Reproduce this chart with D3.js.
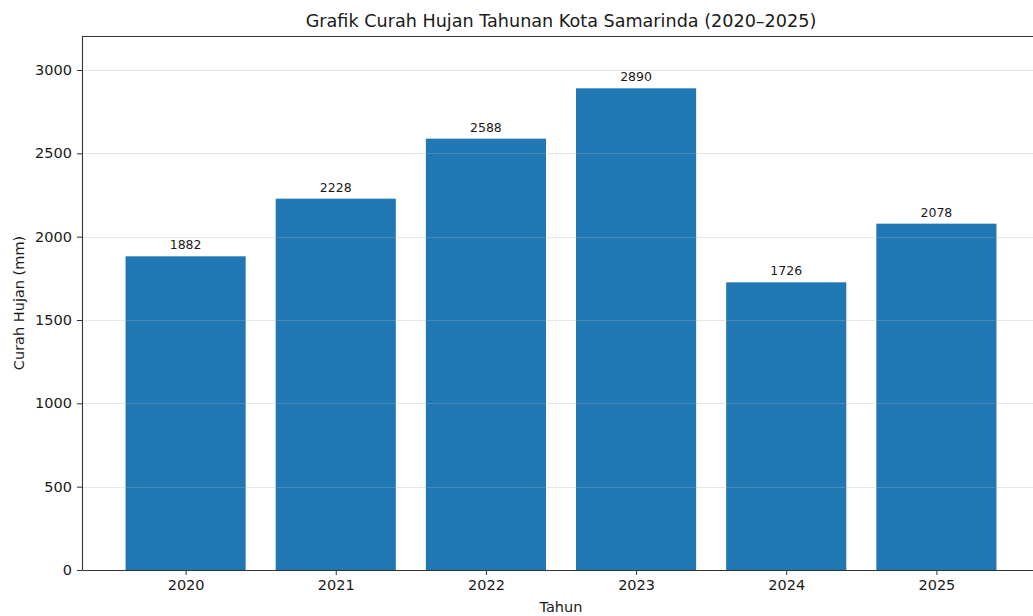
<!DOCTYPE html>
<html>
<head>
<meta charset="utf-8">
<script src="https://cdn.jsdelivr.net/npm/d3@7"></script>
<style>
  body { margin: 0; background: #fff; }
  svg text { font-family: "DejaVu Sans", sans-serif; fill: #1a1a1a; }
</style>
</head>
<body>
<div id="chart"></div>
<script>
// data
var years = ["2020", "2021", "2022", "2023", "2024", "2025"];
var rainfall = [1882, 2228, 2588, 2890, 1726, 2078];
var yTicks = [0, 500, 1000, 1500, 2000, 2500, 3000];

var W = 1033, H = 616;
var margin = { top: 36, right: -7, bottom: 46, left: 82 };
var w = W - margin.left - margin.right;
var h = H - margin.top - margin.bottom;

var svg = d3.select('#chart').append('svg')
  .attr('width', W)
  .attr('height', H);

var g = svg.append('g')
  .attr('transform', 'translate(' + margin.left + ',' + margin.top + ')');

// x as linear over index so the matplotlib margins come out right
var x = d3.scaleLinear()
  .domain([-0.69, years.length - 1 + 0.69])
  .range([0, w]);
var bw = x(0.8) - x(0);

var y = d3.scaleLinear()
  .domain([0, 3204])
  .range([h, 0]);

// bars
g.append('g')
  .selectAll('rect')
  .data(rainfall)
  .enter().append('rect')
  .attr('x', function (d, i) { return x(i) - bw / 2; })
  .attr('y', function (d) { return y(d); })
  .attr('width', bw)
  .attr('height', function (d) { return h - y(d); })
  .attr('fill', '#1f77b4');

// grid (drawn over bars, faint)
g.append('g')
  .selectAll('line')
  .data(yTicks.slice(1))
  .enter().append('line')
  .attr('x1', 0).attr('x2', w)
  .attr('y1', function (d) { return Math.round(y(d)) + 0.5; })
  .attr('y2', function (d) { return Math.round(y(d)) + 0.5; })
  .attr('stroke', '#b0b0b0')
  .attr('stroke-opacity', 0.3)
  .attr('stroke-width', 1);

// value labels
g.append('g')
  .selectAll('text')
  .data(rainfall)
  .enter().append('text')
  .attr('x', function (d, i) { return x(i); })
  .attr('y', function (d) { return y(d) - 7; })
  .attr('text-anchor', 'middle')
  .style('font-size', '12.5px')
  .text(function (d) { return d; });

// axes
var xAxis = g.append('g')
  .attr('transform', 'translate(0,' + h + ')')
  .call(d3.axisBottom(x).tickValues(d3.range(years.length))
    .tickFormat(function (i) { return years[i]; })
    .tickSize(5).tickPadding(5).tickSizeOuter(0));

var yAxis = g.append('g')
  .call(d3.axisLeft(y).tickValues(yTicks).tickFormat(d3.format('d'))
    .tickSize(5).tickPadding(5).tickSizeOuter(0));

[xAxis, yAxis].forEach(function (a) {
  a.selectAll('text').style('font-size', '14.5px').attr('fill', '#1a1a1a');
  a.selectAll('line').attr('stroke', '#333');
  a.select('.domain').attr('stroke', '#333').attr('stroke-width', 1.1);
});

// top spine
g.append('line')
  .attr('x1', 0).attr('x2', w)
  .attr('y1', 0.5).attr('y2', 0.5)
  .attr('stroke', '#333').attr('stroke-width', 1.1);

// titles
svg.append('text')
  .attr('x', margin.left + x(2.5))
  .attr('y', 27)
  .attr('text-anchor', 'middle')
  .style('font-size', '17.6px')
  .text('Grafik Curah Hujan Tahunan Kota Samarinda (2020–2025)');

svg.append('text')
  .attr('x', margin.left + x(2.5))
  .attr('y', 612)
  .attr('text-anchor', 'middle')
  .style('font-size', '14.5px')
  .text('Tahun');

svg.append('text')
  .attr('transform', 'translate(24,' + (margin.top + h / 2) + ') rotate(-90)')
  .attr('text-anchor', 'middle')
  .style('font-size', '14.5px')
  .text('Curah Hujan (mm)');
</script>
</body>
</html>
